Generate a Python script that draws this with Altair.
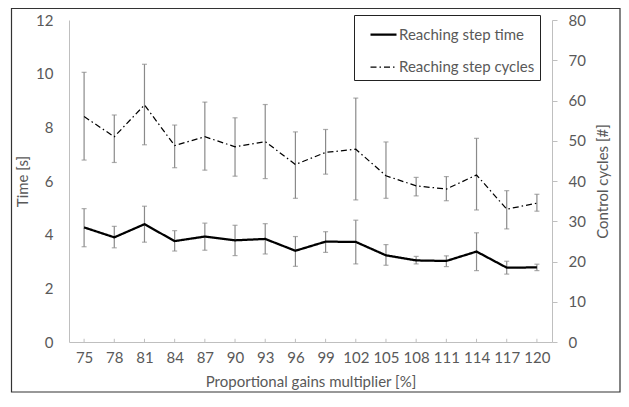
import altair as alt
import pandas as pd

cats = [75, 78, 81, 84, 87, 90, 93, 96, 99, 102, 105, 108, 111, 114, 117, 120]
time_mean = [4.27, 3.90, 4.39, 3.76, 3.93, 3.79, 3.84, 3.40, 3.74, 3.73, 3.23, 3.04, 3.02, 3.37, 2.77, 2.78]
time_hi = [4.97, 4.31, 5.06, 4.15, 4.43, 4.35, 4.41, 3.93, 4.11, 4.54, 3.63, 3.19, 3.21, 4.07, 3.01, 2.90]
time_lo = [3.55, 3.51, 3.72, 3.39, 3.42, 3.22, 3.28, 2.82, 3.34, 2.91, 2.86, 2.91, 2.81, 2.66, 2.53, 2.66]
cyc_mean = [56.0, 51.0, 58.9, 48.8, 51.0, 48.5, 49.8, 44.1, 47.1, 47.9, 41.3, 38.8, 38.0, 41.5, 33.0, 34.5]
cyc_hi = [67.0, 56.4, 69.0, 53.9, 59.6, 55.7, 59.0, 52.2, 52.8, 60.6, 49.7, 40.9, 41.1, 50.6, 37.6, 36.7]
cyc_lo = [45.2, 44.6, 49.0, 43.3, 42.7, 41.2, 40.6, 35.7, 41.7, 35.3, 35.7, 36.3, 35.1, 32.8, 28.1, 32.5]
series_names = ["Reaching step time", "Reaching step cycles"]
time_ticks = [0, 2, 4, 6, 8, 10, 12]
cyc_ticks = [0, 10, 20, 30, 40, 50, 60, 70, 80]

df_t = pd.DataFrame({"mult": cats, "mean": time_mean, "lo": time_lo, "hi": time_hi,
                     "series": series_names[0]})
df_c = pd.DataFrame({"mult": cats, "mean": cyc_mean, "lo": cyc_lo, "hi": cyc_hi,
                     "series": series_names[1]})

FONT = "Lato"
TXT = "#595959"
AX = "#bfbfbf"
ERR = "#8a8a8a"

xenc = alt.X("mult:O", scale=alt.Scale(type="point", padding=0.5),
             axis=alt.Axis(title="Proportional gains multiplier [%]", labelAngle=0,
                           ticks=False, tickSize=0, domainColor=AX, labelPadding=8,
                           titlePadding=9, grid=False))

t_scale = alt.Scale(domain=[0, 12], nice=False, zero=True)
t_axis = alt.Axis(values=time_ticks, ticks=False, tickSize=0, labelPadding=16, grid=False,
                  domainColor=AX, orient="left", title="Time [s]", titlePadding=5)
c_scale = alt.Scale(domain=[0, 80], nice=False, zero=True)
c_axis = alt.Axis(values=cyc_ticks, ticks=True, tickSize=5, tickColor=AX, labelPadding=11,
                  grid=False, domainColor=AX, orient="right", title="Control cycles [#]",
                  titleAngle=270, titleAlign="center", titleBaseline="middle",
                  titleX=50, titleY=161)

leg = alt.Legend(title=None, orient="none", legendX=285, legendY=-5, symbolType="stroke",
                 symbolSize=676, labelFont=FONT, labelFontSize=15, labelColor=TXT,
                 padding=5, symbolOffset=10, rowPadding=10, strokeColor="#222222",
                 fillColor="white", labelOffset=1, symbolStrokeColor="black")

color = alt.Color("series:N", scale=alt.Scale(domain=series_names, range=["black", "black"]), legend=leg)
dash = alt.StrokeDash("series:N", scale=alt.Scale(domain=series_names, range=[[1, 0], [6, 3, 1.5, 3]]), legend=leg)
sw = alt.StrokeWidth("series:N", scale=alt.Scale(domain=series_names, range=[2.25, 1.25]), legend=leg)


def group(df, scale, axis, title):
    base = alt.Chart(df)
    rule = base.mark_rule(color=ERR, strokeWidth=1.2).encode(
        x=xenc, y=alt.Y("lo:Q", scale=scale, axis=axis, title=title), y2="hi:Q")
    cap_hi = base.mark_tick(color=ERR, thickness=1.2, size=5, orient="horizontal").encode(
        x=xenc, y=alt.Y("hi:Q", scale=scale, axis=axis, title=title))
    cap_lo = base.mark_tick(color=ERR, thickness=1.2, size=5, orient="horizontal").encode(
        x=xenc, y=alt.Y("lo:Q", scale=scale, axis=axis, title=title))
    line = base.mark_line().encode(
        x=xenc, y=alt.Y("mean:Q", scale=scale, axis=axis, title=title),
        color=color, strokeDash=dash, strokeWidth=sw)
    return alt.layer(rule, cap_hi, cap_lo, line)


left = group(df_t, t_scale, t_axis, "Time [s]")
xt = alt.Chart(df_t).mark_rule(color=AX, strokeWidth=1).encode(
    x=xenc, y=alt.YDatum(0, scale=t_scale, axis=t_axis, title="Time [s]"), y2=alt.datum(0.12))
left = alt.layer(left, xt)
right = group(df_c, c_scale, c_axis, "Control cycles [#]")

frame = alt.Chart(alt.Data(values=[{}])).mark_rect(
    fill=None, fillOpacity=0, stroke="#333333", strokeWidth=1.2).encode(
    x=alt.value(-57.5), x2=alt.value(551), y=alt.value(-11.5), y2=alt.value(372))

chart = alt.layer(frame, left, right).resolve_scale(y="independent").properties(
    width=483, height=322, autosize="none",
    padding={"left": 61, "top": 12, "right": 69, "bottom": 52},
).configure_view(stroke=None).configure_axis(
    labelFont=FONT, titleFont=FONT, labelColor=TXT, titleColor=TXT,
    labelFontSize=15, titleFontSize=15, titleFontWeight="normal")

chart.save("out.html", embed_options={"renderer": "svg", "actions": False})
